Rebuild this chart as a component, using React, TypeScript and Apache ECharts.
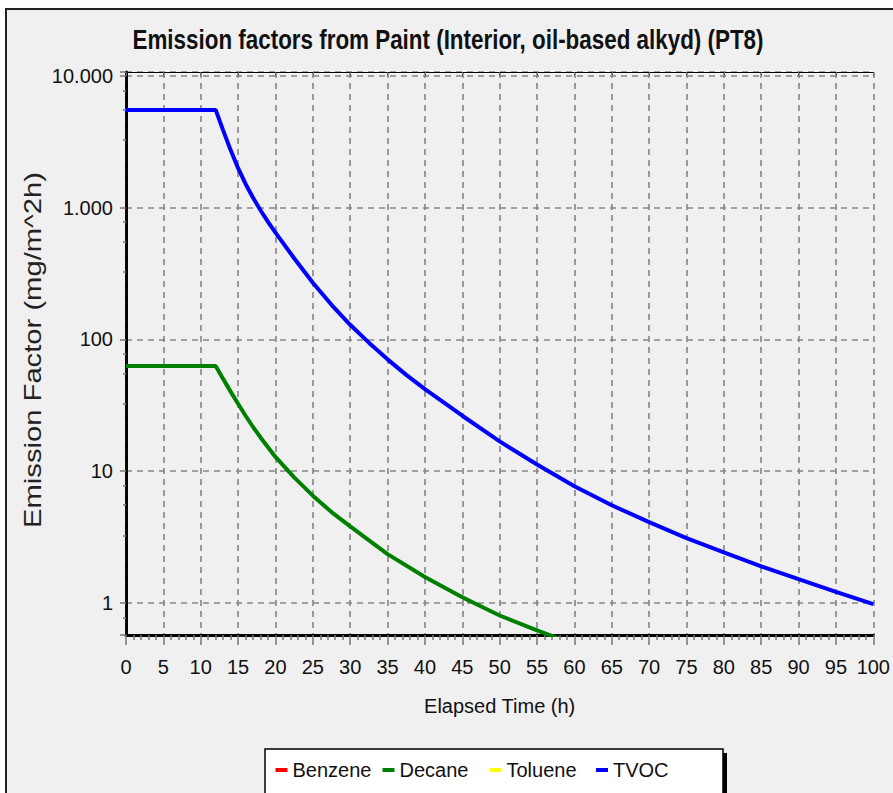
import React, { useEffect, useRef } from "react";
import * as echarts from "echarts";

// ---- data ----
const seriesNames = ["Benzene", "Decane", "Toluene", "TVOC"];
const seriesColors = ["#ff0000", "#008000", "#ffff00", "#0000ff"];

const benzeneTime: number[] = [];
const benzeneValue: number[] = [];

const tolueneTime: number[] = [];
const tolueneValue: number[] = [];

const decaneTime = [0, 12, 13, 14, 15, 16, 17, 18, 20, 22.5, 25, 27.5, 30, 35, 40, 45, 50, 55, 60];
const decaneValue = [62.8, 62.8, 50.1, 40.1, 32.4, 26.3, 21.6, 18.0, 12.8, 8.95, 6.5, 4.88, 3.8, 2.34, 1.57, 1.1, 0.8, 0.617, 0.484];

const tvocTime = [0, 12, 13, 14, 15, 16, 17, 18, 19, 20, 22.5, 25, 27.5, 30, 32.5, 35, 37.5, 40, 45, 50, 55, 60, 65, 70, 75, 80, 85, 90, 95, 100];
const tvocValue = [5520, 5520, 3864, 2735, 1995, 1514, 1189, 955, 780, 646, 413, 269, 183, 129, 94.4, 70.5, 53.7, 41.9, 26.3, 16.8, 11.2, 7.67, 5.5, 4.09, 3.1, 2.41, 1.89, 1.51, 1.21, 0.977];

const xMin = 0;
const xMax = 100;
const xInterval = 5;
const yMin = 0.569;
const yMax = 10715;

const titleText = "Emission factors from Paint (Interior, oil-based alkyd) (PT8)";
const xTitle = "Elapsed Time (h)";
const yTitle = "Emission Factor (mg/m^2h)";

const SANS = "'Liberation Sans', Arial, sans-serif";

function pairs(xs: number[], ys: number[]) {
  return xs.map((x, i) => [x, ys[i]]);
}

function fmtY(v: number): string {
  const l = Math.log10(v);
  if (Math.abs(l - Math.round(l)) > 1e-6) return "";
  const n = Math.round(v);
  return String(n).replace(/\B(?=(\d{3})+(?!\d))/g, ".");
}

const GRID_DASH = { color: "#858585", width: 1.6, type: [6, 5] as any };

export default function App() {
  const ref = useRef<HTMLDivElement>(null);
  useEffect(() => {
    if (!ref.current) return;
    const chart = echarts.init(ref.current, null, { renderer: "svg" });
    const dataSets = [
      pairs(benzeneTime, benzeneValue),
      pairs(decaneTime, decaneValue),
      pairs(tolueneTime, tolueneValue),
      pairs(tvocTime, tvocValue),
    ];
    const legendLefts = [275.5, 382.5, 489.5, 596];
    chart.setOption({
      animation: false,
      backgroundColor: "#ffffff",
      graphic: [
        { type: "rect", z: -10, shape: { x: 6, y: 9, width: 900, height: 800 }, style: { fill: "#f0f0f0", stroke: "#222", lineWidth: 2 } },
        { type: "rect", z: 1, shape: { x: 269, y: 753, width: 458, height: 60 }, style: { fill: "#000" } },
        { type: "rect", z: 2, shape: { x: 265, y: 749, width: 458, height: 60 }, style: { fill: "#fff", stroke: "#000", lineWidth: 1.5 } },
        {
          type: "text",
          x: 448,
          y: 40,
          scaleX: 0.83,
          style: { text: titleText, font: `bold 27px ${SANS}`, fill: "#111", textAlign: "center", textVerticalAlign: "middle" },
        },
        {
          type: "text",
          x: 33,
          y: 350,
          rotation: Math.PI / 2,
          scaleX: 1.27,
          style: { text: yTitle, font: `23px ${SANS}`, fill: "#222", textAlign: "center", textVerticalAlign: "middle" },
        },
      ],
      legend: seriesNames.map((n, i) => ({
        data: [n],
        left: legendLefts[i],
        top: 760,
        z: 5,
        padding: 0,
        icon: "rect",
        itemWidth: 12,
        itemHeight: 4,
        selectedMode: false,
        textStyle: { fontFamily: SANS, fontSize: 20, color: "#111" },
      })),
      grid: { left: 126, right: 16, top: 72, bottom: 158 },
      xAxis: [
        {
          type: "value",
          min: xMin,
          max: xMax,
          interval: xInterval,
          name: xTitle,
          nameLocation: "middle",
          nameGap: 61,
          nameTextStyle: { fontFamily: SANS, fontSize: 20, color: "#111" },
          axisLine: { lineStyle: { color: "#000", width: 3 } },
          axisTick: { length: 10, lineStyle: { color: "#777", width: 1.5 } },
          minorTick: { show: true, splitNumber: 5, length: 5, lineStyle: { color: "#777", width: 1.5 } },
          axisLabel: { fontFamily: SANS, fontSize: 20, color: "#111", margin: 22 },
          splitLine: { show: true, lineStyle: GRID_DASH },
        },
        {
          type: "value",
          position: "top",
          min: xMin,
          max: xMax,
          interval: xInterval,
          axisLine: { lineStyle: { color: "#000", width: 1 } },
          axisTick: { inside: true, length: 4, lineStyle: { color: "#666" } },
          axisLabel: { show: false },
          splitLine: { show: false },
        },
      ],
      yAxis: [
        {
          type: "log",
          logBase: 10,
          min: yMin,
          max: yMax,
          axisLine: { lineStyle: { color: "#000", width: 3 } },
          axisTick: { length: 6, lineStyle: { color: "#777", width: 1.5 } },
          minorTick: { show: true, splitNumber: 4, length: 3, lineStyle: { color: "#777", width: 1.5 } },
          axisLabel: { fontFamily: SANS, fontSize: 20, color: "#111", margin: 13, formatter: (v: number) => fmtY(v) },
          splitLine: { show: true, lineStyle: GRID_DASH },
        },
        {
          type: "log",
          logBase: 10,
          position: "right",
          min: yMin,
          max: yMax,
          axisLine: { show: true, lineStyle: { color: "#111", width: 1.5, type: [6, 4] } },
          axisTick: { show: false },
          axisLabel: { show: false },
          splitLine: { show: false },
        },
      ],
      series: seriesNames.map((n, i) => ({
        name: n,
        type: "line",
        xAxisIndex: 0,
        yAxisIndex: 0,
        data: dataSets[i],
        showSymbol: false,
        clip: true,
        z: 3,
        itemStyle: { color: seriesColors[i] },
        lineStyle: { color: seriesColors[i], width: 4 },
      })),
    });
    return () => chart.dispose();
  }, []);
  return <div ref={ref} style={{ position: "absolute", left: 0, top: 0, width: 893, height: 793 }} />;
}
